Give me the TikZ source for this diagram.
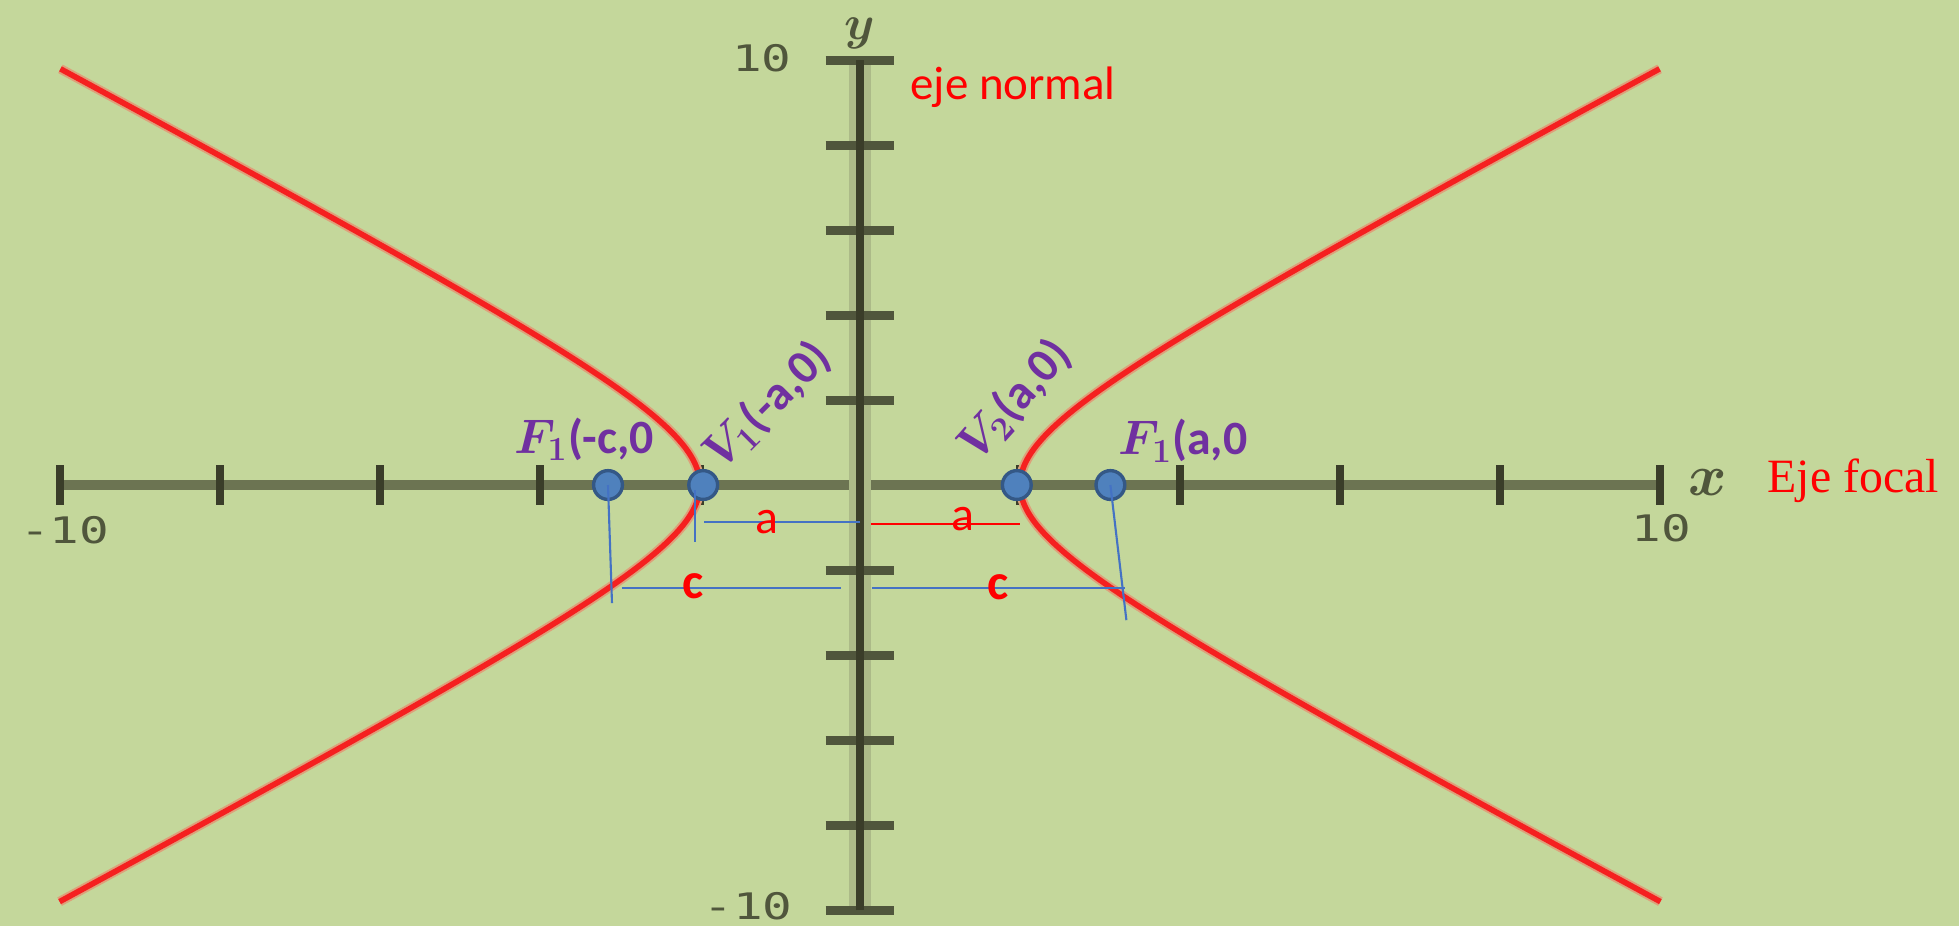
\documentclass[tikz,border=0pt]{standalone}
\usepackage{amsmath,bm}
\usepackage{fontspec}
\setmainfont{Carlito}
\newfontfamily\timesfont{Liberation Serif}
\newfontfamily\tickfont{DejaVu Sans Mono}
\usepackage{tikz}
\usetikzlibrary{calc}
\definecolor{paper}{RGB}{196,215,155}
\definecolor{axisdark}{RGB}{58,61,41}
\definecolor{axislight}{RGB}{108,116,82}
\definecolor{axishalo}{RGB}{172,186,136}
\definecolor{tickcol}{RGB}{80,86,60}
\definecolor{curvered}{RGB}{245,32,32}
\definecolor{curvehalo}{RGB}{222,160,122}
\definecolor{labelpurple}{RGB}{112,48,160}
\definecolor{guide}{RGB}{68,114,196}
\definecolor{dotfill}{RGB}{79,129,189}
\definecolor{dotedge}{RGB}{52,88,134}

\tikzset{
    vertexdot/.style={circle, fill=dotfill, draw=dotedge, line width=1.2pt, minimum size=0.36cm, inner sep=0pt},
    guideline/.style={guide, line width=0.75pt},
    purplelabel/.style={labelpurple, font=\fontsize{17}{19}\selectfont\bfseries, inner sep=0pt},
    redlabel/.style={red, font=\fontsize{17}{20}\selectfont, inner sep=0pt},
    ticklabel/.style={tickcol, font=\tickfont\fontsize{13}{15}\selectfont, inner sep=0pt},
}

\begin{document}
\begin{tikzpicture}[x=1cm, y=0.53125cm]
    % Background
    \useasboundingbox (-10.75,-10.376) rectangle (13.7375,11.412);
    \fill[paper] (-10.75,-10.376) rectangle (13.7375,11.412);

    % Focal axis with ticks every 2 units
    \draw[axislight, line width=3.3pt] (-10,0) -- (10,0);
    \foreach \k in {-10,-8,...,-2,2,4,...,10}
        \draw[axisdark, line width=2.8pt] (\k,0) ++(0,-0.245cm) -- ++(0,0.49cm);

    % Normal axis
    \draw[axishalo, line width=8pt] (0,-10) -- (0,10);
    \foreach \k in {-10,-8,...,-2,2,4,...,10}
        \draw[tickcol, line width=3.2pt] (0,\k) ++(-0.43cm,0) -- ++(0.86cm,0);
    \draw[axisdark, line width=2.9pt] (0,-10) -- (0,10);

    % Axis numbers and names
    \node[ticklabel] (ytop) at (-1.225,10.05) {\scalebox{1.35}[1]{10}};
    \node[ticklabel] (ybot) at (-1.4,-9.9) {\scalebox{1.35}[1]{-10}};
    \node[ticklabel] (xleft) at (-9.94,-1.06) {\scalebox{1.35}[1]{-10}};
    \node[ticklabel] (xright) at (10.02,-1.01) {\scalebox{1.35}[1]{10}};
    \node[ticklabel, font=\fontsize{20}{22}\selectfont] (xname) at (10.59,0.05) {$\bm{x}$};
    \node[ticklabel, font=\fontsize{17}{19}\selectfont] (yname) at (0,10.62) {$\bm{y}$};

    % Hyperbola x^2/4 - y^2/4 = 1, both branches
    \foreach \s in {1,-1} {
        \draw[curvehalo, line width=3.4pt] plot[domain=-2.293:2.293, samples=120, smooth] ({\s*2*cosh(\x)},{2*sinh(\x)});
        \draw[curvered, line width=2pt] plot[domain=-2.293:2.293, samples=120, smooth] ({\s*2*cosh(\x)},{2*sinh(\x)});
    }

    % Foci and vertices
    \node[vertexdot] (F1) at (-3.15,0) {};
    \node[vertexdot] (V1) at (-1.96,0) {};
    \node[vertexdot] (V2) at (1.96,0) {};
    \node[vertexdot] (F2) at (3.13,0) {};

    % Distances a and c
    \coordinate (F1drop) at (-3.1,-2.78);
    \coordinate (F2drop) at (3.33,-3.18);
    \coordinate (V1top) at (-2.06,-0.12);
    \coordinate (V1drop) at (-2.06,-1.34);
    \coordinate (aL1) at (-1.95,-0.87);
    \coordinate (aL2) at (0,-0.87);
    \coordinate (aR1) at (0.14,-0.92);
    \coordinate (aR2) at (2.0,-0.92);
    \coordinate (cL1) at (-2.975,-2.42);
    \coordinate (cL2) at (-0.24,-2.42);
    \coordinate (cR1) at (0.15,-2.42);
    \coordinate (cR2) at (3.31,-2.42);

    \draw[guideline] (F1.center) -- (F1drop);
    \draw[guideline] (F2.center) -- (F2drop);
    \draw[guideline] (V1top) -- (V1drop);
    \draw[guideline] (aL1) -- (aL2);
    \draw[red, line width=0.8pt] (aR1) -- (aR2);
    \draw[guideline] (cL1) -- (cL2);
    \draw[guideline] (cR1) -- (cR2);

    \node[redlabel] (aLlab) at (-1.16,-0.87) {a};
    \node[redlabel] (aRlab) at (1.29,-0.8) {a};
    \node[redlabel, font=\fontsize{18}{20}\selectfont\bfseries] (cLlab) at (-2.09,-2.38) {c};
    \node[redlabel, font=\fontsize{18}{20}\selectfont\bfseries] (cRlab) at (1.72,-2.4) {c};

    % Point names
    \node[purplelabel, anchor=base west] (F1lab) at (-4.33,0.75) {$\bm{F}_{\bm{1}}$(-c,0};
    \node[purplelabel, anchor=base west, rotate=45] (V1lab) at (-1.74,0.3) {$\bm{V}_{\bm{1}}$(-a,0)};
    \node[purplelabel, anchor=base west, rotate=48] (V2lab) at (1.46,0.5) {$\bm{V}_{\bm{2}}$(a,0)};
    \node[purplelabel, anchor=base west] (F2lab) at (3.225,0.71) {$\bm{F}_{\bm{1}}$(a,0};

    % Axis names
    \node[redlabel, anchor=base west, font=\fontsize{16.7}{20}\selectfont] (ejenormal) at (0.625,9.06) {eje normal};
    \node[redlabel, anchor=base west, font=\timesfont\fontsize{17}{20}\selectfont] (ejefocal) at (11.34,-0.165) {Eje focal};
\end{tikzpicture}
\end{document}
